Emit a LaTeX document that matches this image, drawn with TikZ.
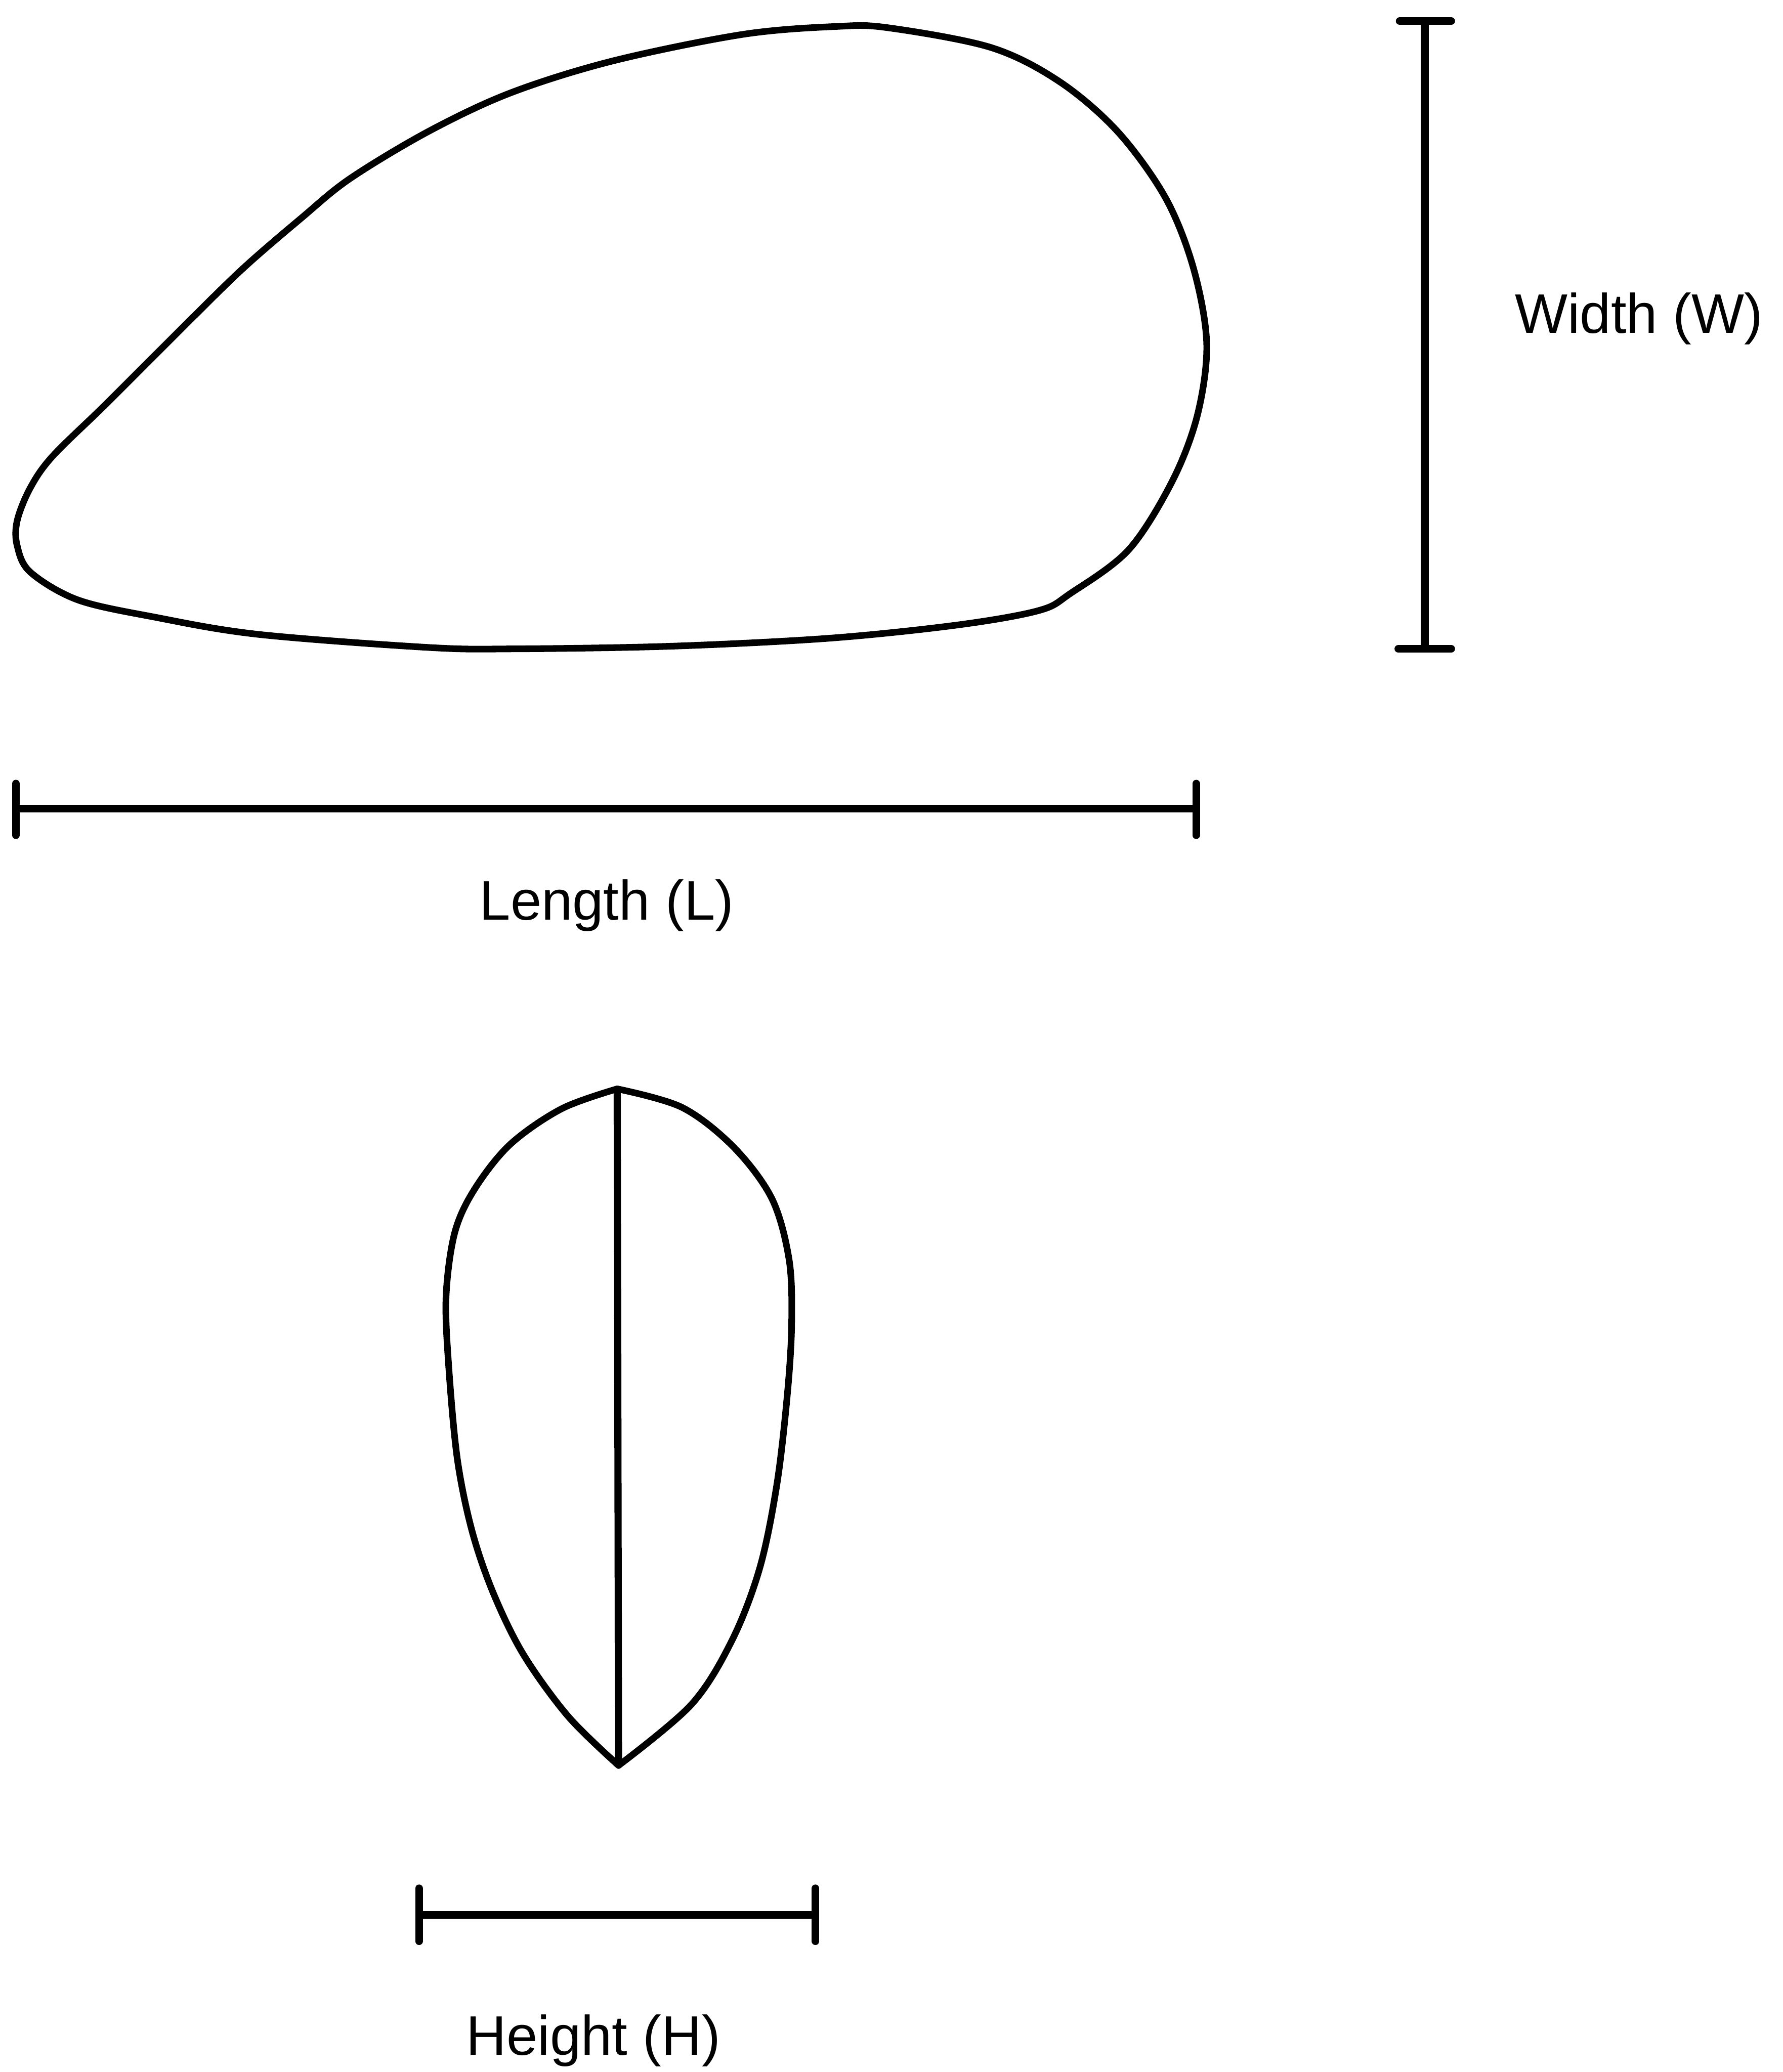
\documentclass[tikz,border=0pt]{standalone}
\usepackage{fontspec}
\setmainfont{Liberation Sans}
\begin{document}
\begin{tikzpicture}[x=0.01cm,y=-0.01cm,
  outline/.style={line width=0.05cm, line join=round, line cap=round},
  dimbar/.style={line width=0.058cm},
  dimcap/.style={line width=0.058cm, line cap=round},
  dimlabel/.style={font=\fontsize{12}{14}\selectfont, anchor=base, inner sep=0pt}]
\useasboundingbox (0,0) rectangle (1349,1568);

% seed seen from above
\draw[outline] plot[smooth cycle, tension=0.55] coordinates {
  (13,394) (23,369) (40,345) (81,305) (140,246) (184,203) (228,165)
  (265,135) (325,99) (387,70) (464,46) (562,26) (633,20) (672,21)
  (750,36) (802,62) (846,100) (882,150) (903,203) (913,260) (906,314)
  (887,364) (854,416) (810,449) (786,462) (724,473) (627,483)
  (508,489) (390,491) (325,490) (195,480) (117,467) (59,454)
  (23,433) (13,413)};

% width dimension
\coordinate (wt) at (1078,16);
\coordinate (wb) at (1078,491);
\draw[dimbar] (wt) -- (wb);
\draw[dimcap] ([xshift=-0.19cm]wt) -- ([xshift=0.2cm]wt);
\draw[dimcap] ([xshift=-0.2cm]wb) -- ([xshift=0.2cm]wb);
\node[dimlabel] (wlab) at (1240,252) {Width (W)};

% length dimension
\coordinate (ll) at (12,612);
\coordinate (lr) at (905,612);
\draw[dimbar] (ll) -- (lr);
\draw[dimcap] ([yshift=-0.2cm]ll) -- ([yshift=0.19cm]ll);
\draw[dimcap] ([yshift=-0.2cm]lr) -- ([yshift=0.19cm]lr);
\node[dimlabel] (llab) at (459,696) {Length (L)};

% seed cross-section
\coordinate (top) at (467,824);
\coordinate (bot) at (468,1336);
\draw[outline] plot[smooth, tension=0.55] coordinates {
  (467,824) (425,839) (386,866) (359,900) (344,933) (337.5,981)
  (339.5,1034) (346,1104) (357,1158) (373,1205) (396,1252) (430,1299)
  (468,1336)};
\draw[outline] plot[smooth, tension=0.55] coordinates {
  (467,824) (516,838) (555,868) (584,907) (597,953) (599,1000)
  (596,1052) (588,1122) (575,1186) (554,1241) (523,1290) (468,1336)};
\draw[line width=0.054cm] (top) -- (bot);

% height dimension
\coordinate (hl) at (317,1449);
\coordinate (hr) at (617,1449);
\draw[dimbar] (hl) -- (hr);
\draw[dimcap] ([yshift=-0.2cm]hl) -- ([yshift=0.2cm]hl);
\draw[dimcap] ([yshift=-0.2cm]hr) -- ([yshift=0.2cm]hr);
\node[dimlabel] (hlab) at (449,1555) {Height (H)};
\end{tikzpicture}
\end{document}
